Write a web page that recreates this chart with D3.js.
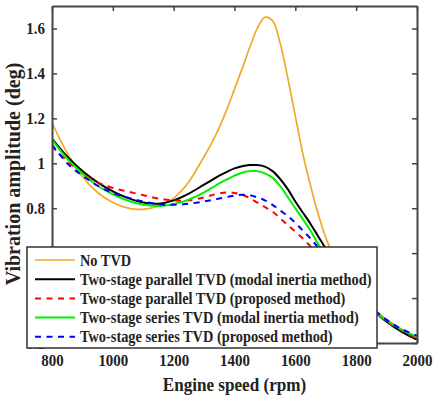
<!DOCTYPE html>
<html>
<head>
<meta charset="utf-8">
<script src="https://cdn.jsdelivr.net/npm/d3@7"></script>
<style>
  body { margin: 0; background: #fff; }
  text { font-family: "Liberation Serif", "Times New Roman", serif; font-weight: bold; fill: #222; }
</style>
</head>
<body>
<script>
// engine speed samples (rpm)
var rpm = [800, 850, 900, 950, 1000, 1050, 1100, 1150, 1200, 1250, 1300, 1325, 1350, 1375, 1400, 1425,
    1450, 1475, 1500, 1525, 1550, 1575, 1600, 1625, 1650, 1675, 1700, 1750, 1800, 1850, 1900, 1950, 2000];

var noTVD = [1.18, 1.045, 0.94, 0.87, 0.825, 0.80, 0.795, 0.81, 0.845, 0.918, 1.03, 1.09, 1.16, 1.24, 1.33, 1.42,
    1.515, 1.60, 1.65, 1.635, 1.535, 1.38, 1.21, 1.04, 0.90, 0.775, 0.67, 0.515, 0.425, 0.36, 0.305, 0.26, 0.225];
var parModal = [1.11, 1.03, 0.965, 0.915, 0.875, 0.845, 0.825, 0.82, 0.835, 0.865, 0.905, 0.925, 0.945, 0.962, 0.977, 0.987,
    0.992, 0.992, 0.985, 0.965, 0.93, 0.885, 0.83, 0.78, 0.73, 0.675, 0.62, 0.515, 0.425, 0.355, 0.295, 0.25, 0.215];
var parProposed = [1.075, 1.01, 0.955, 0.915, 0.89, 0.874, 0.858, 0.843, 0.835, 0.835, 0.848, 0.858, 0.866, 0.87, 0.868, 0.86,
    0.845, 0.825, 0.805, 0.785, 0.755, 0.725, 0.695, 0.665, 0.63, 0.595, 0.56, 0.48, 0.41, 0.35, 0.295, 0.255, 0.218];
var serModal = [1.105, 1.02, 0.955, 0.9, 0.862, 0.833, 0.815, 0.81, 0.818, 0.838, 0.87, 0.89, 0.91, 0.928, 0.945, 0.958,
    0.965, 0.965, 0.955, 0.935, 0.898, 0.85, 0.8, 0.75, 0.7, 0.64, 0.59, 0.5, 0.42, 0.355, 0.3, 0.26, 0.228];
var serProposed = [1.083, 1.0, 0.945, 0.9, 0.868, 0.847, 0.83, 0.818, 0.815, 0.82, 0.83, 0.836, 0.843, 0.85, 0.856, 0.86,
    0.858, 0.848, 0.835, 0.815, 0.79, 0.765, 0.735, 0.7, 0.665, 0.625, 0.585, 0.5, 0.42, 0.358, 0.303, 0.262, 0.232];

var seriesNames = ["No TVD",
    "Two-stage parallel TVD (modal inertia method)",
    "Two-stage parallel TVD (proposed method)",
    "Two-stage series TVD (modal inertia method)",
    "Two-stage series TVD (proposed method)"];
var xTicks = [800, 1000, 1200, 1400, 1600, 1800, 2000];
var yTicks = [0.2, 0.4, 0.6, 0.8, 1, 1.2, 1.4, 1.6];

var series = [
    { name: seriesNames[0], values: noTVD, color: "#F0AA28", dash: null, w: 1.7 },
    { name: seriesNames[1], values: parModal, color: "#000000", dash: null, w: 2 },
    { name: seriesNames[2], values: parProposed, color: "#FF0000", dash: "6,5.5", w: 2 },
    { name: seriesNames[3], values: serModal, color: "#00EE00", dash: null, w: 2 },
    { name: seriesNames[4], values: serProposed, color: "#0000FF", dash: "6,5.5", w: 2 }
];

var W = 434, H = 399;
var margin = { top: 6, right: 17, bottom: 56, left: 52 },
    width = W - margin.left - margin.right,
    height = H - margin.top - margin.bottom;

var svg = d3.select("body").append("svg")
    .attr("width", W)
    .attr("height", H);

var g = svg.append("g")
    .attr("transform", "translate(" + margin.left + "," + margin.top + ")");

var x = d3.scaleLinear().domain([800, 2000]).range([0, width]);
var y = d3.scaleLinear().domain([0.2, 1.7]).range([height, 0]);

g.append("clipPath").attr("id", "clip")
    .append("rect").attr("width", width).attr("height", height);

// curves
var line = d3.line()
    .x(function(d) { return x(d[0]); })
    .y(function(d) { return y(d[1]); })
    .curve(d3.curveCatmullRom.alpha(0.5));

series.forEach(function(s) {
    g.append("path")
        .datum(rpm.map(function(r, i) { return [r, s.values[i]]; }))
        .attr("clip-path", "url(#clip)")
        .attr("fill", "none")
        .attr("stroke", s.color)
        .attr("stroke-width", s.w)
        .attr("stroke-dasharray", s.dash)
        .attr("d", line);
});

// axes, MATLAB style box with ticks pointing in
var axisColor = "#444";
var sx = 0.88;

g.append("g")
    .attr("transform", "translate(0," + height + ")")
    .call(d3.axisBottom(x).tickValues(xTicks).tickSizeInner(-5).tickSizeOuter(0).tickPadding(11).tickFormat(d3.format("d")));
g.append("g")
    .call(d3.axisLeft(y).tickValues(yTicks).tickSizeInner(-5).tickSizeOuter(0).tickPadding(8).tickFormat(function(d) { return d === 1 ? "1" : d3.format(".1f")(d); }));
g.append("g")
    .call(d3.axisTop(x).tickValues(xTicks).tickSizeInner(-5).tickSizeOuter(0).tickFormat(""));
g.append("g")
    .attr("transform", "translate(" + width + ",0)")
    .call(d3.axisRight(y).tickValues(yTicks).tickSizeInner(-5).tickSizeOuter(0).tickFormat(""));

g.selectAll(".domain").attr("stroke", axisColor).attr("stroke-width", 2);
g.selectAll(".tick line").attr("stroke", axisColor).attr("stroke-width", 1.5);
g.selectAll(".tick text")
    .attr("font-size", 17)
    .attr("font-family", "Liberation Serif, serif")
    .attr("fill", "#222")
    .attr("transform", "scale(" + sx + ",1)");

// axis titles
svg.append("text")
    .attr("transform", "translate(" + (margin.left + width / 2) + ",391) scale(0.9,1)")
    .attr("text-anchor", "middle")
    .attr("font-size", 19)
    .text("Engine speed (rpm)");

svg.append("text")
    .attr("transform", "translate(20," + 174 + ") rotate(-90)")
    .attr("text-anchor", "middle")
    .attr("font-size", 20)
    .text("Vibration amplitude (deg)");

// legend
var legend = svg.append("g").attr("transform", "translate(27,247)");
legend.append("rect")
    .attr("width", 350)
    .attr("height", 101)
    .attr("fill", "#fff")
    .attr("stroke", "#333")
    .attr("stroke-width", 1.5);

var item = legend.selectAll(".item")
    .data(series)
    .enter().append("g")
    .attr("class", "item")
    .attr("transform", function(d, i) { return "translate(0," + (13 + i * 19.2) + ")"; });

item.append("line")
    .attr("x1", 8).attr("x2", 48)
    .attr("stroke", function(d) { return d.color; })
    .attr("stroke-width", function(d) { return d.w; })
    .attr("stroke-dasharray", function(d) { return d.dash; });

item.append("text")
    .attr("transform", "translate(53,5.5) scale(0.87,1)")
    .attr("font-size", 16.5)
    .text(function(d) { return d.name; });
</script>
</body>
</html>
